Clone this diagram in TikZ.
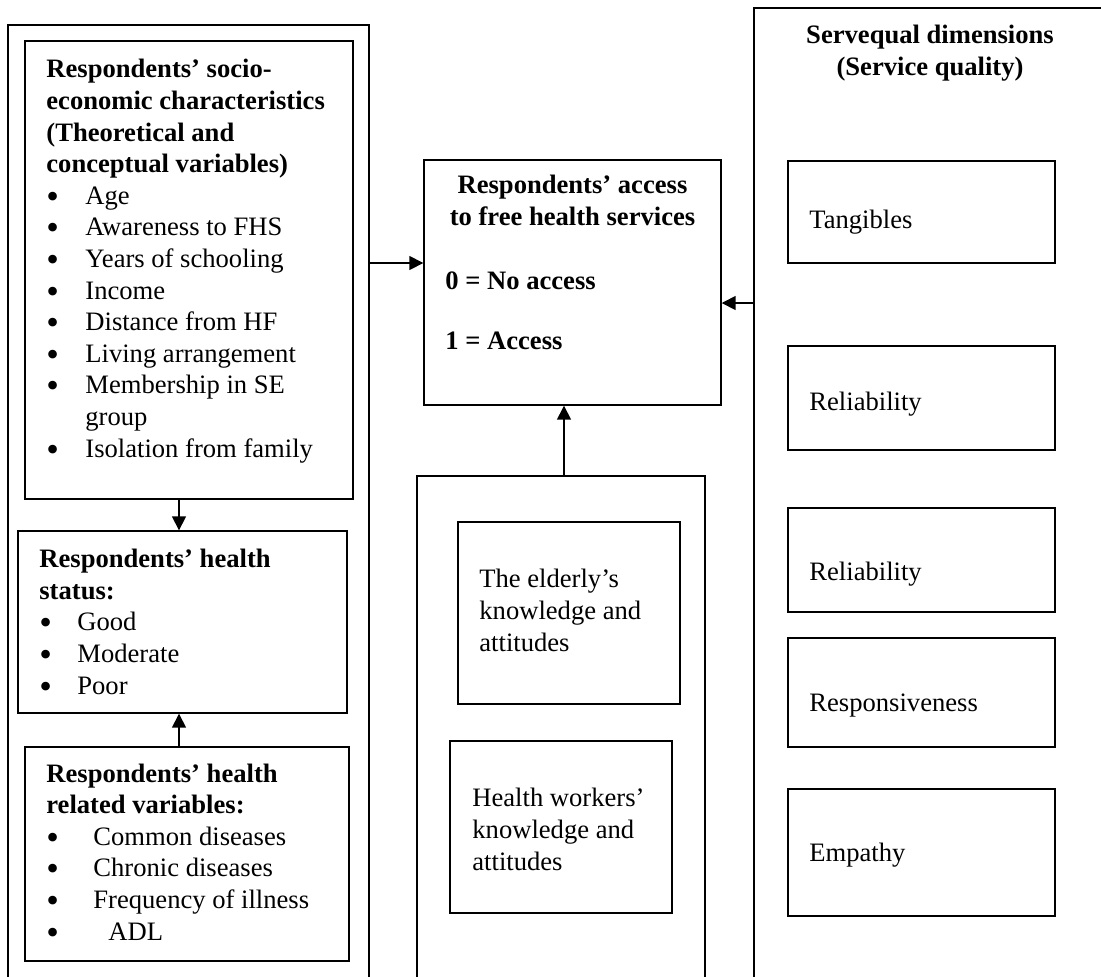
\documentclass[tikz,border=0pt]{standalone}
\usepackage{fontspec}
\setmainfont{Liberation Serif}
\usetikzlibrary{fit}
\usetikzlibrary{arrows.meta}

\newcommand{\bul}[1][19.5pt]{\makebox[#1][l]{\smash{\raisebox{-2pt}{\fontsize{18}{18}\selectfont\textbullet}}}}

\begin{document}
\begin{tikzpicture}[x=0.5pt,y=-0.5pt,
  box/.style={draw,line width=0.7pt,inner sep=0pt},
  txt/.style={inner sep=0pt,anchor=base west,align=left,font=\fontsize{13.3}{15.8}\selectfont},
  arr/.style={line width=0.8pt,-{Triangle[length=7pt,width=7pt]}}]

\useasboundingbox (0,0) rectangle (1101,976);
\clip (0,0) rectangle (1101,976);

\node[box,fit={(8,25) (369,1000)}] (lout) {};
\node[box,fit={(25,41) (353,499)}] (socio) {};
\node[box,fit={(18,531) (347,713)}] (status) {};
\node[box,fit={(25,747) (349,961)}] (related) {};

\node[box,fit={(424,160) (721,405)}] (access) {};
\node[box,fit={(417,476) (705,1000)}] (mout) {};
\node[box,fit={(458,522) (680,704)}] (elderly) {};
\node[box,fit={(450,741) (672,913)}] (workers) {};

\node[box,fit={(754,8) (1120,1000)}] (rout) {};
\node[box,fit={(788,161) (1055,263)}] (tang) {};
\node[box,fit={(788,346) (1055,450)}] (relA) {};
\node[box,fit={(788,508) (1055,612)}] (relB) {};
\node[box,fit={(788,638) (1055,747)}] (resp) {};
\node[box,fit={(788,789) (1055,916)}] (emp) {};

\node[txt] (sociotxt) at (46,457) {\textbf{Respondents’ socio-}\\
  \textbf{economic characteristics}\\
  \textbf{(Theoretical and}\\
  \textbf{conceptual variables)}\\
  \bul Age\\
  \bul Awareness to FHS\\
  \bul Years of schooling\\
  \bul Income\\
  \bul Distance from HF\\
  \bul Living arrangement\\
  \bul Membership in SE\\
  \hspace*{19.5pt}group\\
  \bul Isolation from family};
\node[txt] (statustxt) at (39,694) {\textbf{Respondents’ health}\\
  \textbf{status:}\\
  \bul[19pt]Good\\
  \bul[19pt]Moderate\\
  \bul[19pt]Poor};
\node[txt] (relatedtxt) at (46,940) {\textbf{Respondents’ health}\\
  \textbf{related variables:}\\
  \bul[23.5pt]Common diseases\\
  \bul[23.5pt]Chronic diseases\\
  \bul[23.5pt]Frequency of illness\\
  \bul[31pt]ADL};

\node[txt,anchor=base,align=center] (accesstxt) at (572.5,225) {\textbf{Respondents’ access}\\
  \textbf{to free health services}};
\node[txt] (noacc) at (445,289) {\textbf{0 = No access}};
\node[txt] (acc) at (445,349) {\textbf{1 = Access}};
\node[txt] (elderlytxt) at (479,651) {The elderly’s\\knowledge and\\attitudes};
\node[txt] (workerstxt) at (472,870) {Health workers’\\knowledge and\\attitudes};

\node[txt,anchor=base,align=center] (servtxt) at (930,75) {\textbf{Servequal dimensions}\\
  \textbf{(Service quality)}};
\node[txt] (tangtxt) at (809,228) {Tangibles};
\node[txt] (relAtxt) at (809,410) {Reliability};
\node[txt] (relBtxt) at (809,580) {Reliability};
\node[txt] (resptxt) at (809,711) {Responsiveness};
\node[txt] (emptxt) at (809,861) {Empathy};

\coordinate (X) at (179,0);
\coordinate (Y) at (564,0);
\coordinate (L) at (0,263);
\coordinate (R) at (0,303);

\draw[arr] (socio.south -| X) -- (status.north -| X);
\draw[arr] (related.north -| X) -- (status.south -| X);
\draw[arr] (lout.east |- L) -- (access.west |- L);
\draw[arr] (rout.west |- R) -- (access.east |- R);
\draw[arr] (mout.north -| Y) -- (access.south -| Y);

\end{tikzpicture}
\end{document}
